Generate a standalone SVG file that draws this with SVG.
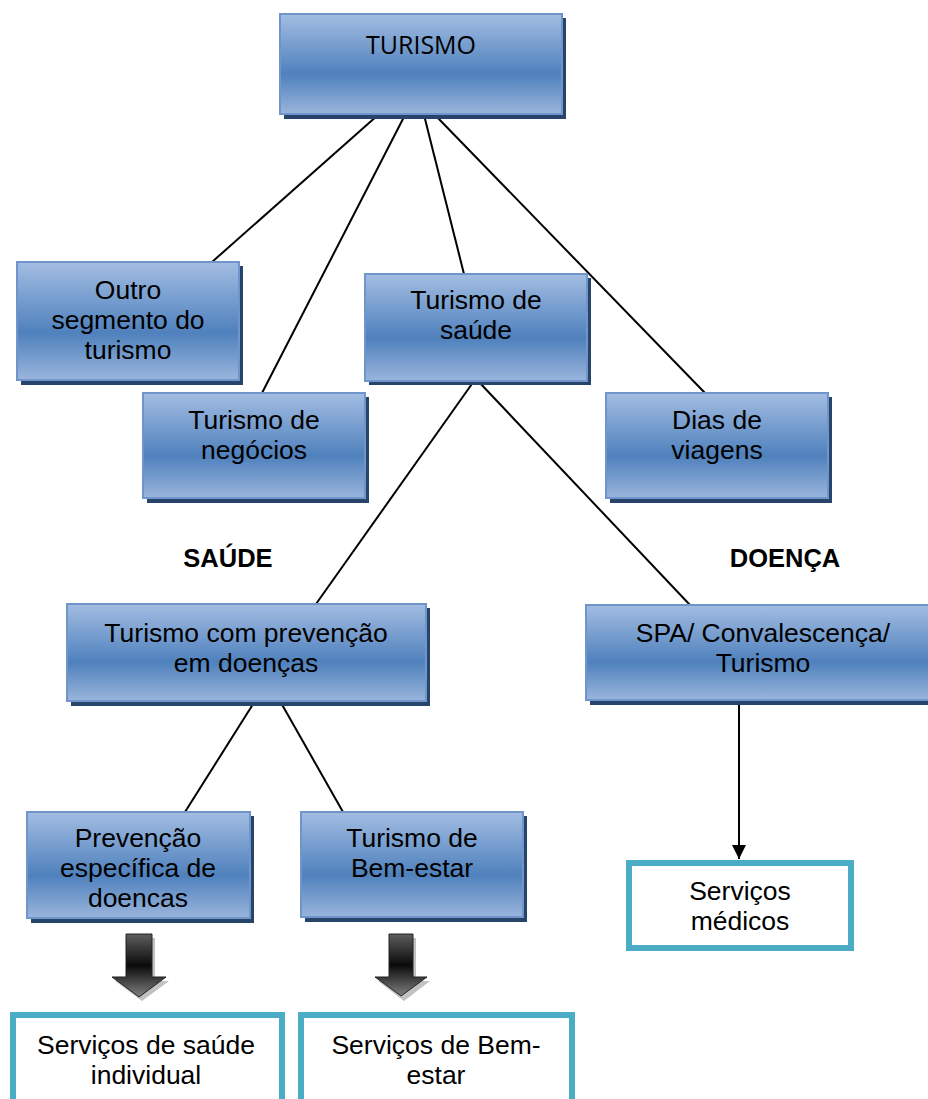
<svg xmlns="http://www.w3.org/2000/svg" width="928" height="1099" viewBox="0 0 928 1099">
  <style>
    .box { fill: url(#blueFill); stroke: #6f95cb; stroke-width: 2; }
    .shadow { fill: #27456b; }
    .out { fill: #ffffff; stroke: #4bacc6; stroke-width: 6; }
    .lbl { font-family: "Liberation Sans", Arial, sans-serif; font-size: 26.5px; fill: #000; text-anchor: middle; }
    .title { font-family: "Open Sans", "Liberation Sans", sans-serif; font-size: 25px; fill: #000; text-anchor: middle; }
    .head { font-family: "Liberation Sans", Arial, sans-serif; font-size: 25.5px; font-weight: bold; fill: #000; text-anchor: middle; }
    .link { stroke: #000; stroke-width: 2; fill: none; }
  </style>
  <defs>
    <linearGradient id="blueFill" x1="0" y1="0" x2="0" y2="1">
      <stop offset="0" stop-color="#a3bde2"/>
      <stop offset="0.6" stop-color="#4f81bd"/>
      <stop offset="1" stop-color="#9ab5dc"/>
    </linearGradient>
    <linearGradient id="blockArrow" x1="0" y1="0" x2="0" y2="1">
      <stop offset="0" stop-color="#5e5e5e"/>
      <stop offset="0.5" stop-color="#0a0a0a"/>
      <stop offset="1" stop-color="#808080"/>
    </linearGradient>
    <marker id="tipBig" viewBox="0 0 10 10" refX="10" refY="5" markerWidth="14" markerHeight="14" markerUnits="userSpaceOnUse" orient="auto">
      <path d="M0,0 L10,5 L0,10 z" fill="#000"/>
    </marker>
  </defs>

  <!-- connectors -->
  <g id="connectors">
    <line class="link" x1="378" y1="115" x2="212" y2="262"/>
    <line class="link" x1="405" y1="115" x2="262" y2="393"/>
    <line class="link" x1="424" y1="115" x2="464" y2="274"/>
    <line class="link" x1="435" y1="115" x2="705" y2="393"/>
    <line class="link" x1="474" y1="381" x2="316" y2="604"/>
    <line class="link" x1="478" y1="381" x2="690" y2="605"/>
    <line class="link" x1="255" y1="701" x2="185" y2="812"/>
    <line class="link" x1="280" y1="701" x2="343" y2="812"/>
    <line class="link" x1="739" y1="700" x2="739" y2="859" marker-end="url(#tipBig)"/>
    <!-- block arrows -->
    <g id="arrow-saude">
      <path d="M129,938 L155,938 L155,981 L169,981 L142,1001 L115,981 L129,981 z" fill="#9a9a9a" opacity="0.6"/>
      <path d="M126,934 L152,934 L152,977 L166,977 L139,997 L112,977 L126,977 z" fill="url(#blockArrow)" stroke="#222" stroke-width="1"/>
    </g>
    <g id="arrow-bemestar">
      <path d="M392,938 L416,938 L416,981 L430,981 L404,1001 L378,981 L392,981 z" fill="#9a9a9a" opacity="0.6"/>
      <path d="M389,934 L413,934 L413,977 L427,977 L401,996 L375,977 L389,977 z" fill="url(#blockArrow)" stroke="#222" stroke-width="1"/>
    </g>
  </g>

  <g id="turismo">
    <rect class="shadow" x="284" y="18" width="282" height="101"/>
    <rect class="box" x="280" y="14" width="282" height="100"/>
    <text class="title" x="421" y="54">TURISMO</text>
  </g>

  <g id="outro-segmento">
    <rect class="shadow" x="21" y="266" width="222" height="119"/>
    <rect class="box" x="17" y="262" width="222" height="118"/>
    <text class="lbl" x="128" y="299">Outro</text>
    <text class="lbl" x="128" y="329">segmento do</text>
    <text class="lbl" x="128" y="359">turismo</text>
  </g>

  <g id="turismo-negocios">
    <rect class="shadow" x="147" y="397" width="222" height="106"/>
    <rect class="box" x="143" y="393" width="222" height="105"/>
    <text class="lbl" x="254" y="429">Turismo de</text>
    <text class="lbl" x="254" y="459">negócios</text>
  </g>

  <g id="turismo-saude">
    <rect class="shadow" x="369" y="278" width="222" height="107"/>
    <rect class="box" x="365" y="274" width="222" height="107"/>
    <text class="lbl" x="476" y="309">Turismo de</text>
    <text class="lbl" x="476" y="339">saúde</text>
  </g>

  <g id="dias-viagens">
    <rect class="shadow" x="610" y="397" width="222" height="106"/>
    <rect class="box" x="606" y="393" width="222" height="105"/>
    <text class="lbl" x="717" y="429">Dias de</text>
    <text class="lbl" x="717" y="459">viagens</text>
  </g>

  <g id="label-saude">
    <text class="head" x="228" y="567">SAÚDE</text>
  </g>
  <g id="label-doenca">
    <text class="head" x="785" y="567">DOENÇA</text>
  </g>

  <g id="turismo-prevencao">
    <rect class="shadow" x="71" y="608" width="359" height="98"/>
    <rect class="box" x="67" y="604" width="359" height="97"/>
    <text class="lbl" x="246" y="642">Turismo com prevenção</text>
    <text class="lbl" x="246" y="672">em doenças</text>
  </g>

  <g id="spa">
    <rect class="shadow" x="590" y="609" width="350" height="96"/>
    <rect class="box" x="586" y="605" width="350" height="95"/>
    <text class="lbl" x="763" y="642">SPA/ Convalescença/</text>
    <text class="lbl" x="763" y="672">Turismo</text>
  </g>

  <g id="prevencao-especifica">
    <rect class="shadow" x="31" y="816" width="223" height="107"/>
    <rect class="box" x="27" y="812" width="223" height="106"/>
    <text class="lbl" x="138" y="847">Prevenção</text>
    <text class="lbl" x="138" y="877">específica de</text>
    <text class="lbl" x="138" y="907">doencas</text>
  </g>

  <g id="turismo-bemestar">
    <rect class="shadow" x="305" y="816" width="222" height="106"/>
    <rect class="box" x="301" y="812" width="222" height="105"/>
    <text class="lbl" x="412" y="847">Turismo de</text>
    <text class="lbl" x="412" y="877">Bem-estar</text>
  </g>

  <g id="servicos-medicos">
    <rect class="out" x="629" y="863" width="222" height="85"/>
    <text class="lbl" x="740" y="900">Serviços</text>
    <text class="lbl" x="740" y="930">médicos</text>
  </g>

  <g id="servicos-saude-individual">
    <rect class="out" x="13" y="1015" width="269" height="100"/>
    <text class="lbl" x="146" y="1054">Serviços de saúde</text>
    <text class="lbl" x="146" y="1084">individual</text>
  </g>

  <g id="servicos-bemestar">
    <rect class="out" x="301" y="1015" width="271" height="100"/>
    <text class="lbl" x="436" y="1054">Serviços de Bem-</text>
    <text class="lbl" x="436" y="1084">estar</text>
  </g>
</svg>
